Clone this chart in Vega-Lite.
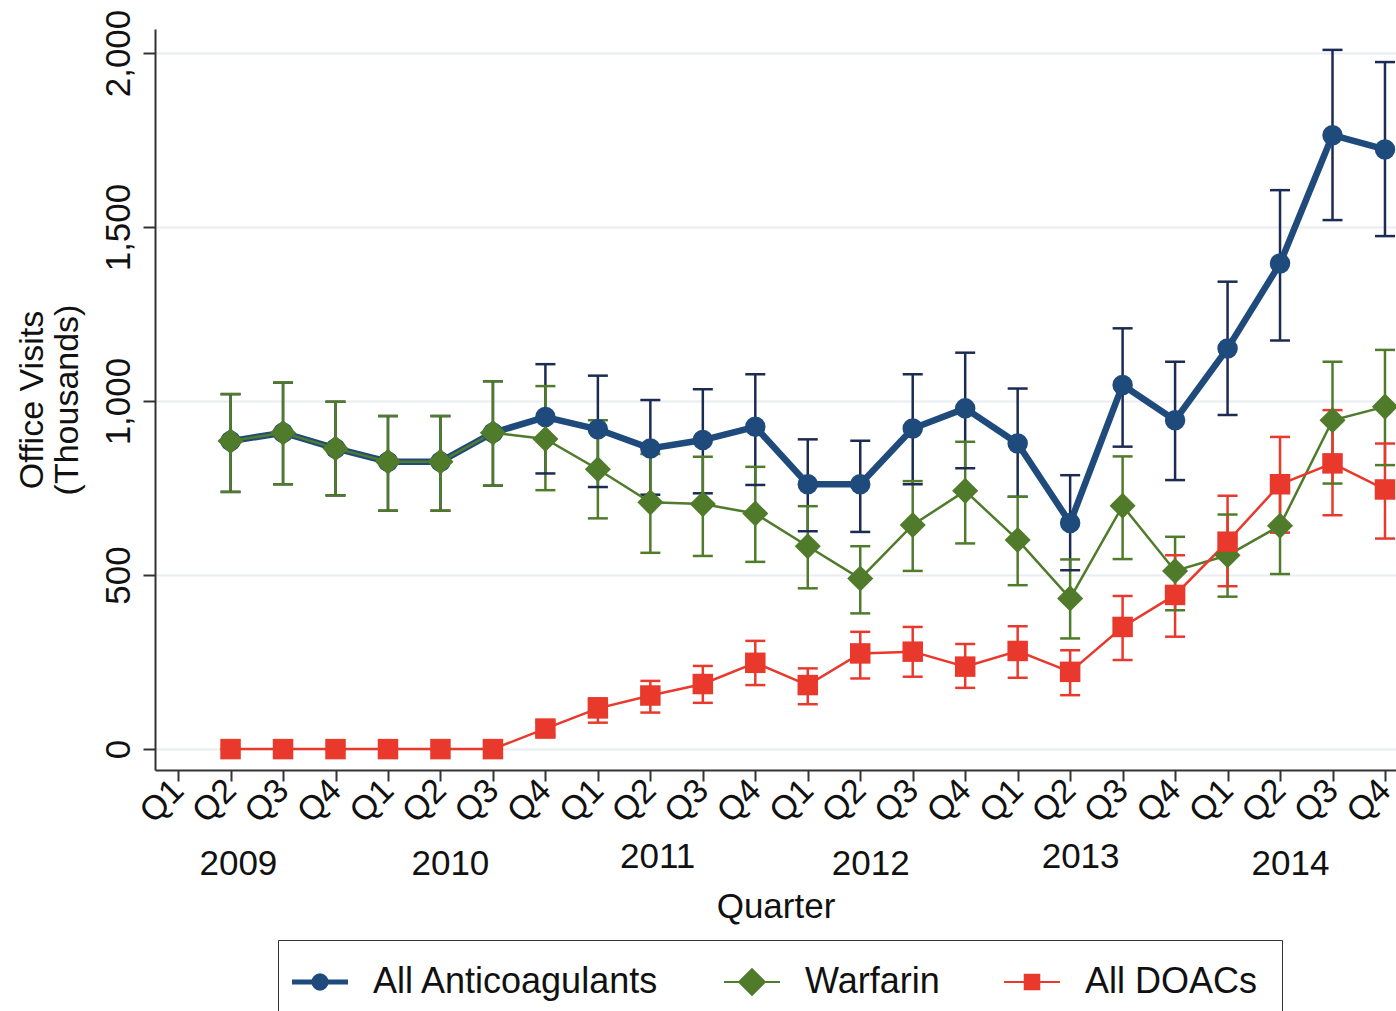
{
  "$schema": "https://vega.github.io/schema/vega-lite/v6.json",
  "width": 1241,
  "height": 741,
  "autosize": {"type": "none"},
  "padding": {"left": 155, "top": 29, "right": 0, "bottom": 241},
  "background": "white",
  "config": {
    "view": {"stroke": null},
    "font": "Liberation Sans",
    "axis": {"labelFont": "Liberation Sans", "titleFont": "Liberation Sans", "labelColor": "#111", "titleColor": "#111"},
    "legend": {"labelFont": "Liberation Sans"}
  },
  "data": {
    "values": [
      {"t": 1, "series": "All Anticoagulants", "v": 885, "lo": 739, "hi": 1020},
      {"t": 2, "series": "All Anticoagulants", "v": 909, "lo": 761, "hi": 1053},
      {"t": 3, "series": "All Anticoagulants", "v": 864, "lo": 729, "hi": 998},
      {"t": 4, "series": "All Anticoagulants", "v": 826, "lo": 685, "hi": 957},
      {"t": 5, "series": "All Anticoagulants", "v": 826, "lo": 685, "hi": 957},
      {"t": 6, "series": "All Anticoagulants", "v": 909, "lo": 757, "hi": 1057},
      {"t": 7, "series": "All Anticoagulants", "v": 954, "lo": 792, "hi": 1106},
      {"t": 8, "series": "All Anticoagulants", "v": 919, "lo": 753, "hi": 1073},
      {"t": 9, "series": "All Anticoagulants", "v": 864, "lo": 731, "hi": 1003},
      {"t": 10, "series": "All Anticoagulants", "v": 888, "lo": 735, "hi": 1034},
      {"t": 11, "series": "All Anticoagulants", "v": 926, "lo": 759, "hi": 1077},
      {"t": 12, "series": "All Anticoagulants", "v": 761, "lo": 626, "hi": 890},
      {"t": 13, "series": "All Anticoagulants", "v": 761, "lo": 624, "hi": 886},
      {"t": 14, "series": "All Anticoagulants", "v": 921, "lo": 761, "hi": 1077},
      {"t": 15, "series": "All Anticoagulants", "v": 979, "lo": 807, "hi": 1139},
      {"t": 16, "series": "All Anticoagulants", "v": 878, "lo": 725, "hi": 1036},
      {"t": 17, "series": "All Anticoagulants", "v": 650, "lo": 514, "hi": 787},
      {"t": 18, "series": "All Anticoagulants", "v": 1046, "lo": 869, "hi": 1209},
      {"t": 19, "series": "All Anticoagulants", "v": 945, "lo": 773, "hi": 1113},
      {"t": 20, "series": "All Anticoagulants", "v": 1151, "lo": 960, "hi": 1343},
      {"t": 21, "series": "All Anticoagulants", "v": 1395, "lo": 1174, "hi": 1606},
      {"t": 22, "series": "All Anticoagulants", "v": 1764, "lo": 1520, "hi": 2009},
      {"t": 23, "series": "All Anticoagulants", "v": 1723, "lo": 1474, "hi": 1974},
      {"t": 1, "series": "Warfarin", "v": 885, "lo": 739, "hi": 1020},
      {"t": 2, "series": "Warfarin", "v": 909, "lo": 761, "hi": 1053},
      {"t": 3, "series": "Warfarin", "v": 864, "lo": 729, "hi": 998},
      {"t": 4, "series": "Warfarin", "v": 826, "lo": 685, "hi": 957},
      {"t": 5, "series": "Warfarin", "v": 826, "lo": 685, "hi": 957},
      {"t": 6, "series": "Warfarin", "v": 909, "lo": 757, "hi": 1057},
      {"t": 7, "series": "Warfarin", "v": 891, "lo": 744, "hi": 1043},
      {"t": 8, "series": "Warfarin", "v": 804, "lo": 663, "hi": 945},
      {"t": 9, "series": "Warfarin", "v": 709, "lo": 564, "hi": 848},
      {"t": 10, "series": "Warfarin", "v": 704, "lo": 555, "hi": 840},
      {"t": 11, "series": "Warfarin", "v": 677, "lo": 538, "hi": 811},
      {"t": 12, "series": "Warfarin", "v": 583, "lo": 462, "hi": 698},
      {"t": 13, "series": "Warfarin", "v": 490, "lo": 390, "hi": 583},
      {"t": 14, "series": "Warfarin", "v": 644, "lo": 512, "hi": 770},
      {"t": 15, "series": "Warfarin", "v": 742, "lo": 591, "hi": 883},
      {"t": 16, "series": "Warfarin", "v": 601, "lo": 471, "hi": 725},
      {"t": 17, "series": "Warfarin", "v": 433, "lo": 318, "hi": 545},
      {"t": 18, "series": "Warfarin", "v": 699, "lo": 546, "hi": 841},
      {"t": 19, "series": "Warfarin", "v": 512, "lo": 399, "hi": 610},
      {"t": 20, "series": "Warfarin", "v": 557, "lo": 438, "hi": 674},
      {"t": 21, "series": "Warfarin", "v": 642, "lo": 503, "hi": 785},
      {"t": 22, "series": "Warfarin", "v": 945, "lo": 763, "hi": 1113},
      {"t": 23, "series": "Warfarin", "v": 984, "lo": 816, "hi": 1147},
      {"t": 1, "series": "All DOACs", "v": 0, "lo": 0, "hi": 0},
      {"t": 2, "series": "All DOACs", "v": 0, "lo": 0, "hi": 0},
      {"t": 3, "series": "All DOACs", "v": 0, "lo": 0, "hi": 0},
      {"t": 4, "series": "All DOACs", "v": 0, "lo": 0, "hi": 0},
      {"t": 5, "series": "All DOACs", "v": 0, "lo": 0, "hi": 0},
      {"t": 6, "series": "All DOACs", "v": 0, "lo": 0, "hi": 0},
      {"t": 7, "series": "All DOACs", "v": 59, "lo": 40, "hi": 78},
      {"t": 8, "series": "All DOACs", "v": 117, "lo": 76, "hi": 146},
      {"t": 9, "series": "All DOACs", "v": 154, "lo": 105, "hi": 196},
      {"t": 10, "series": "All DOACs", "v": 187, "lo": 133, "hi": 239},
      {"t": 11, "series": "All DOACs", "v": 248, "lo": 184, "hi": 311},
      {"t": 12, "series": "All DOACs", "v": 184, "lo": 129, "hi": 232},
      {"t": 13, "series": "All DOACs", "v": 275, "lo": 203, "hi": 337},
      {"t": 14, "series": "All DOACs", "v": 280, "lo": 208, "hi": 351},
      {"t": 15, "series": "All DOACs", "v": 237, "lo": 176, "hi": 302},
      {"t": 16, "series": "All DOACs", "v": 282, "lo": 205, "hi": 353},
      {"t": 17, "series": "All DOACs", "v": 222, "lo": 155, "hi": 284},
      {"t": 18, "series": "All DOACs", "v": 351, "lo": 256, "hi": 440},
      {"t": 19, "series": "All DOACs", "v": 443, "lo": 323, "hi": 557},
      {"t": 20, "series": "All DOACs", "v": 596, "lo": 468, "hi": 728},
      {"t": 21, "series": "All DOACs", "v": 761, "lo": 622, "hi": 897},
      {"t": 22, "series": "All DOACs", "v": 821, "lo": 672, "hi": 974},
      {"t": 23, "series": "All DOACs", "v": 746, "lo": 605, "hi": 878}
    ]
  },
  "resolve": {"axis": {"x": "independent"}},
  "layer": [
    {
      "description": "95% interval bars; this layer also carries the quarter axis and the y axis",
      "mark": {"type": "rule", "strokeWidth": 2.5},
      "encoding": {
        "x": {
          "field": "t", "type": "quantitative",
          "scale": {"domain": [-0.44, 23.21], "nice": false, "zero": false},
          "axis": {
            "orient": "bottom",
            "values": [0, 1, 2, 3, 4, 5, 6, 7, 8, 9, 10, 11, 12, 13, 14, 15, 16, 17, 18, 19, 20, 21, 22, 23],
            "labelExpr": "'Q' + (round(datum.value) % 4 + 1)",
            "labelAngle": -45, "labelAlign": "right", "labelBaseline": "middle",
            "labelFontSize": 34, "labelPadding": 4, "labelOverlap": false, "labelFlush": false, "labelBound": false,
            "tickSize": 11, "tickWidth": 2, "tickColor": "#333",
            "domainColor": "#333", "domainWidth": 2,
            "grid": false, "title": null
          }
        },
        "y": {
          "field": "lo", "type": "quantitative",
          "scale": {"domain": [-60, 2069], "nice": false, "zero": false},
          "axis": {
            "values": [0, 500, 1000, 1500, 2000],
            "labelExpr": "format(datum.value, ',.0f')",
            "labelAngle": -90, "labelAlign": "center", "labelBaseline": "alphabetic",
            "labelFontSize": 35, "labelPadding": 14,
            "tickSize": 12, "tickWidth": 2, "tickColor": "#333",
            "domainColor": "#333", "domainWidth": 2,
            "grid": true, "gridColor": "#e9ecf0", "gridWidth": 2,
            "title": ["Office Visits", "(Thousands)"],
            "titleFontSize": 34, "titleFontWeight": "normal", "titleLineHeight": 35, "titlePadding": 17
          }
        },
        "y2": {"field": "hi"},
        "stroke": {
          "field": "series", "type": "nominal",
          "scale": {"range": ["#1c2b52", "#e8392c", "#4f7b2b"]},
          "legend": null
        }
      }
    },
    {
      "description": "lower caps",
      "mark": {"type": "rule", "strokeWidth": 2.5, "xOffset": -10, "x2Offset": 10},
      "encoding": {
        "x": {"field": "t", "type": "quantitative", "scale": {"domain": [-0.44, 23.21], "nice": false, "zero": false}, "axis": null},
        "x2": {"field": "t"},
        "y": {"field": "lo", "type": "quantitative", "scale": {"domain": [-60, 2069], "nice": false, "zero": false}},
        "stroke": {"field": "series", "type": "nominal", "legend": null}
      }
    },
    {
      "description": "upper caps",
      "mark": {"type": "rule", "strokeWidth": 2.5, "xOffset": -10, "x2Offset": 10},
      "encoding": {
        "x": {"field": "t", "type": "quantitative", "scale": {"domain": [-0.44, 23.21], "nice": false, "zero": false}, "axis": null},
        "x2": {"field": "t"},
        "y": {"field": "hi", "type": "quantitative", "scale": {"domain": [-60, 2069], "nice": false, "zero": false}},
        "stroke": {"field": "series", "type": "nominal", "legend": null}
      }
    },
    {
      "description": "series lines; this layer also carries the year axis and the x title",
      "mark": {"type": "line"},
      "encoding": {
        "x": {
          "field": "t", "type": "quantitative",
          "scale": {"domain": [-0.44, 23.21], "nice": false, "zero": false},
          "axis": {
            "orient": "bottom",
            "values": [1.14, 5.18, 9.13, 13.19, 17.19, 21.19],
            "labelExpr": "'' + (2009 + floor(datum.value / 4))",
            "labelAngle": 0, "labelAlign": "center", "labelBaseline": "top",
            "labelFontSize": 35,
            "labelPadding": {"condition": {"test": "datum.value == 9.13 || datum.value == 17.19", "value": 69}, "value": 76},
            "labelOverlap": false, "labelFlush": false, "labelBound": false,
            "ticks": false, "tickSize": 0, "domain": false, "grid": false,
            "title": "Quarter", "titleFontSize": 35, "titleFontWeight": "normal", "titlePadding": 8
          }
        },
        "y": {"field": "v", "type": "quantitative", "scale": {"domain": [-60, 2069], "nice": false, "zero": false}},
        "color": {
          "field": "series", "type": "nominal",
          "scale": {"domain": ["All Anticoagulants", "Warfarin", "All DOACs"], "range": ["#1f4a7c", "#4f7b2b", "#e8392c"]}
        },
        "strokeWidth": {"condition": {"test": "datum.series === 'All Anticoagulants'", "value": 6.5}, "value": 2.5}
      }
    },
    {
      "description": "series markers and the legend",
      "mark": {"type": "point", "filled": true, "opacity": 1},
      "encoding": {
        "x": {"field": "t", "type": "quantitative", "scale": {"domain": [-0.44, 23.21], "nice": false, "zero": false}, "axis": null},
        "y": {"field": "v", "type": "quantitative", "scale": {"domain": [-60, 2069], "nice": false, "zero": false}},
        "color": {
          "field": "series", "type": "nominal",
          "legend": {
            "title": null, "orient": "none", "legendX": 123, "legendY": 911,
            "direction": "horizontal", "columns": 3, "columnPadding": 60,
            "padding": 24, "strokeColor": "#333",
            "symbolSize": 3136, "symbolOpacity": 1,
            "symbolType": {"expr": "datum.value === 'All Anticoagulants' ? 'M-1,0H1M0.22,0A0.22,0.22,0,1,1,-0.22,0A0.22,0.22,0,1,1,0.22,0Z' : datum.value === 'Warfarin' ? 'M-1,0H1M0,-0.46L0.46,0L0,0.46L-0.46,0Z' : 'M-1,0H1M-0.26,-0.26H0.26V0.26H-0.26Z'"},
            "symbolStrokeWidth": {"expr": "datum.value === 'All Anticoagulants' ? 5 : 2"},
            "symbolStrokeColor": {"expr": "scale('color', datum.value)"},
            "symbolFillColor": {"expr": "scale('color', datum.value)"},
            "labelFontSize": 36, "labelOffset": 35, "labelColor": "#111", "labelLimit": 600
          }
        },
        "shape": {
          "field": "series", "type": "nominal",
          "scale": {"range": ["circle", "square", "diamond"]},
          "legend": null
        },
        "size": {"condition": {"test": "datum.series === 'Warfarin'", "value": 680}, "value": 420}
      }
    }
  ]
}
